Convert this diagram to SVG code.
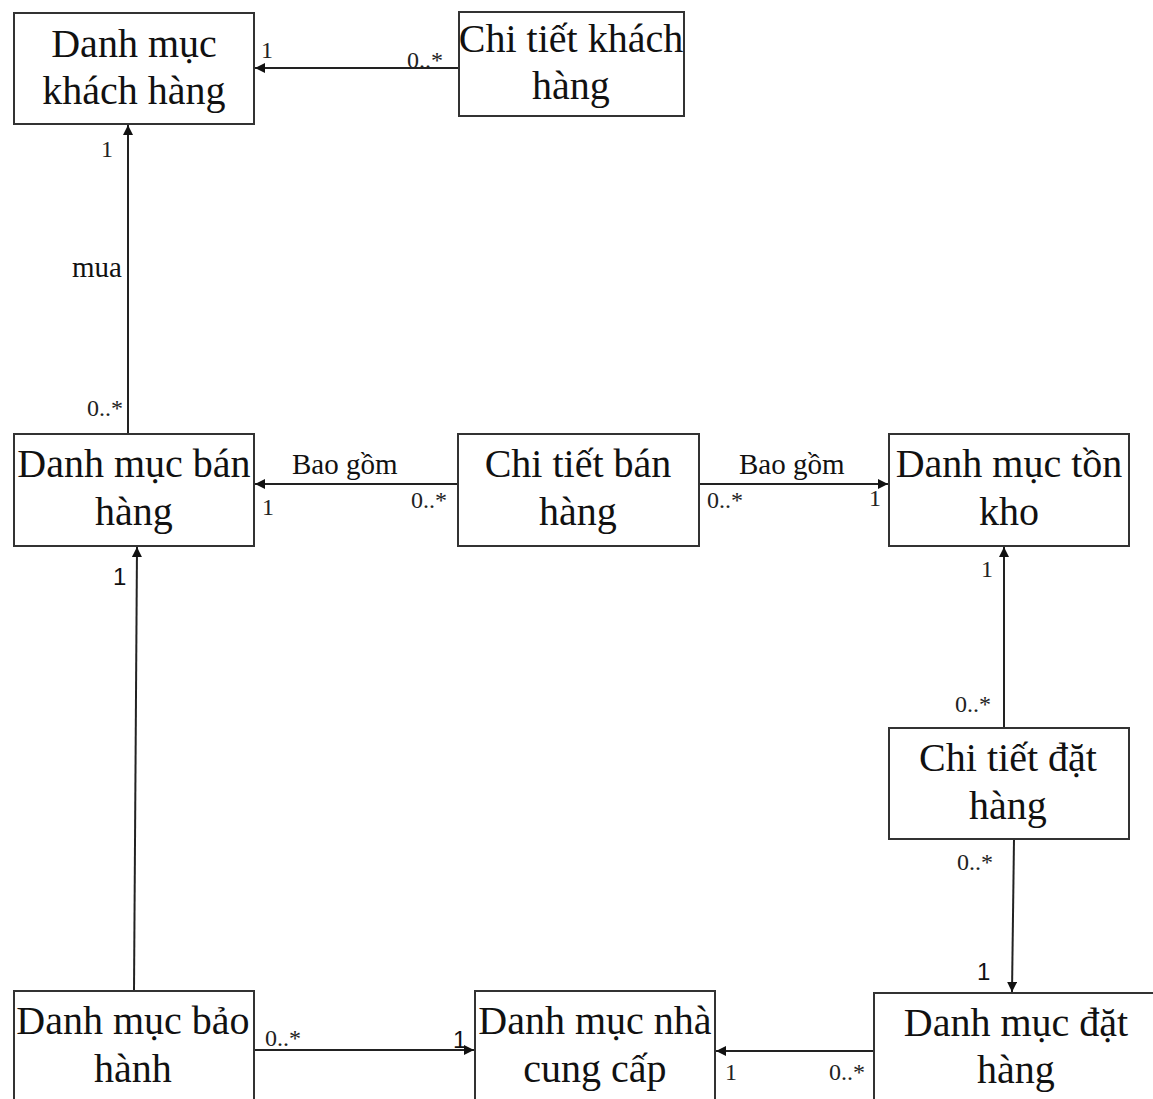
<svg xmlns="http://www.w3.org/2000/svg" width="1153" height="1099" viewBox="0 0 1153 1099">
  <defs>
    <marker id="arrow" viewBox="0 0 10 10" refX="10" refY="5" markerWidth="10" markerHeight="10" markerUnits="userSpaceOnUse" orient="auto">
      <path d="M0,0 L10,5 L0,10 z" fill="#111"/>
    </marker>
  </defs>
  <style>
    .box { fill: #fff; stroke: #333; stroke-width: 2; }
    .name { font-family: "Liberation Serif", "Times New Roman", serif; font-size: 40px; fill: #111; text-anchor: middle; }
    .edge { fill: none; stroke: #222; stroke-width: 2; marker-end: url(#arrow); }
    .lbl { font-family: "Liberation Serif", "Times New Roman", serif; font-size: 29px; fill: #111; }
    .mult { font-family: "Liberation Serif", "Times New Roman", serif; font-size: 24px; fill: #222; }
    .mult-s { font-family: "Liberation Sans", Arial, sans-serif; font-size: 24px; fill: #111; }
  </style>
  <rect width="1153" height="1099" fill="#fff"/>

  <!-- associations -->
  <g id="connectors">
    <line class="edge" x1="459" y1="68" x2="255" y2="68"/>
    <line class="edge" x1="128" y1="434" x2="128" y2="125"/>
    <line class="edge" x1="458" y1="484" x2="255" y2="484"/>
    <line class="edge" x1="699" y1="484" x2="888" y2="484"/>
    <line class="edge" x1="1004" y1="728" x2="1004" y2="547"/>
    <line class="edge" x1="1014" y1="839" x2="1012" y2="992"/>
    <line class="edge" x1="134" y1="991" x2="137" y2="547"/>
    <line class="edge" x1="254" y1="1050" x2="474" y2="1050"/>
    <line class="edge" x1="874" y1="1051" x2="716" y2="1051"/>

    <text class="mult" x="261" y="58">1</text>
    <text class="mult" x="407" y="68">0..*</text>
    <text class="mult" x="101" y="157">1</text>
    <text class="lbl" x="72" y="277">mua</text>
    <text class="mult" x="87" y="416">0..*</text>
    <text class="lbl" x="292" y="474">Bao gồm</text>
    <text class="mult" x="262" y="515">1</text>
    <text class="mult" x="411" y="508">0..*</text>
    <text class="lbl" x="739" y="474">Bao gồm</text>
    <text class="mult" x="707" y="508">0..*</text>
    <text class="mult" x="869" y="506">1</text>
    <text class="mult-s" x="113" y="585">1</text>
    <text class="mult" x="981" y="577">1</text>
    <text class="mult" x="955" y="712">0..*</text>
    <text class="mult" x="957" y="870">0..*</text>
    <text class="mult-s" x="977" y="980">1</text>
    <text class="mult" x="265" y="1046">0..*</text>
    <text class="mult-s" x="453" y="1048">1</text>
    <text class="mult" x="725" y="1080">1</text>
    <text class="mult" x="829" y="1080">0..*</text>
  </g>

  <g id="danh-muc-khach-hang">
    <rect class="box" x="14" y="13" width="240" height="111"/>
    <text class="name" x="134" y="57">Danh mục</text>
    <text class="name" x="134" y="104">khách hàng</text>
  </g>

  <g id="chi-tiet-khach-hang">
    <rect class="box" x="459" y="12" width="225" height="104"/>
    <text class="name" x="571" y="52">Chi tiết khách</text>
    <text class="name" x="571" y="99">hàng</text>
  </g>

  <g id="danh-muc-ban-hang">
    <rect class="box" x="14" y="434" width="240" height="112"/>
    <text class="name" x="134" y="477">Danh mục bán</text>
    <text class="name" x="134" y="525">hàng</text>
  </g>

  <g id="chi-tiet-ban-hang">
    <rect class="box" x="458" y="434" width="241" height="112"/>
    <text class="name" x="578" y="477">Chi tiết bán</text>
    <text class="name" x="578" y="525">hàng</text>
  </g>

  <g id="danh-muc-ton-kho">
    <rect class="box" x="889" y="434" width="240" height="112"/>
    <text class="name" x="1009" y="477">Danh mục tồn</text>
    <text class="name" x="1009" y="525">kho</text>
  </g>

  <g id="chi-tiet-dat-hang">
    <rect class="box" x="889" y="728" width="240" height="111"/>
    <text class="name" x="1008" y="771">Chi tiết đặt</text>
    <text class="name" x="1008" y="819">hàng</text>
  </g>

  <g id="danh-muc-bao-hanh">
    <rect class="box" x="14" y="991" width="240" height="120"/>
    <text class="name" x="133" y="1034">Danh mục bảo</text>
    <text class="name" x="133" y="1082">hành</text>
  </g>

  <g id="danh-muc-nha-cung-cap">
    <rect class="box" x="475" y="991" width="240" height="120"/>
    <text class="name" x="595" y="1034">Danh mục nhà</text>
    <text class="name" x="595" y="1082">cung cấp</text>
  </g>

  <g id="danh-muc-dat-hang">
    <rect class="box" x="874" y="993" width="290" height="120"/>
    <text class="name" x="1016" y="1036">Danh mục đặt</text>
    <text class="name" x="1016" y="1083">hàng</text>
  </g>
</svg>
